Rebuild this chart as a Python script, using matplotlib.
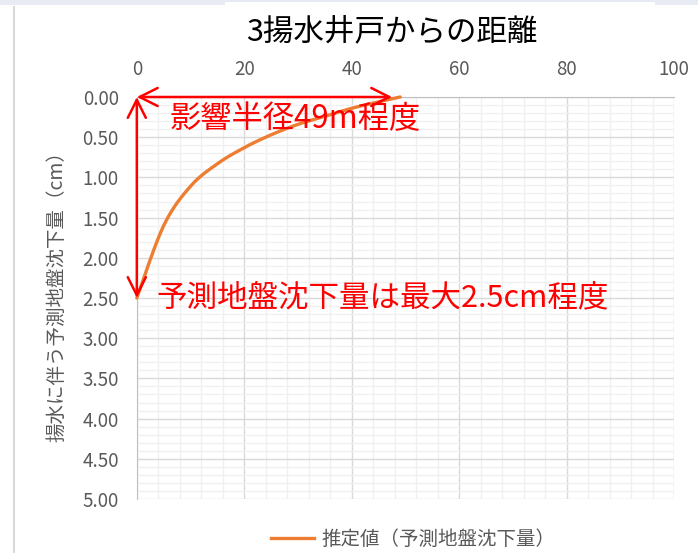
import numpy as np
import matplotlib
matplotlib.use("Agg")
import matplotlib.pyplot as plt
from matplotlib.ticker import MultipleLocator, FormatStrFormatter
from matplotlib.lines import Line2D
from matplotlib.patches import Rectangle

plt.rcParams['font.family'] = ['Noto Sans CJK JP', 'DejaVu Sans']

# 揚水井戸からの距離 (m) と予測地盤沈下量 (cm)
distance = [0, 5, 10, 15, 20, 25, 30, 35, 40, 45, 49]
settlement = [2.50, 1.60, 1.11, 0.83, 0.63, 0.47, 0.34, 0.24, 0.14, 0.06, 0.00]
influence_radius = 47.5

title = "3揚水井戸からの距離"
ylabel = "揚水に伴う予測地盤沈下量（cm）"
series_name = "推定値（予測地盤沈下量）"
note_radius = "影響半径49m程度"
note_max = "予測地盤沈下量は最大2.5cm程度"

GRAY = "#595959"
ORANGE = "#ED7D31"
RED = "#FF0000"


def smooth(xs, ys, n=20):
    # Catmull-Rom spline through the points (Excel-style smoothed line)
    p = np.column_stack([xs, ys]).astype(float)
    p = np.vstack([p[0], p, p[-1]])
    out = []
    for i in range(1, len(p) - 2):
        p0, p1, p2, p3 = p[i - 1], p[i], p[i + 1], p[i + 2]
        t = np.linspace(0, 1, n, endpoint=False)[:, None]
        seg = 0.5 * ((2 * p1) + (-p0 + p2) * t
                     + (2 * p0 - 5 * p1 + 4 * p2 - p3) * t ** 2
                     + (-p0 + 3 * p1 - 3 * p2 + p3) * t ** 3)
        out.append(seg)
    out.append(p[-2][None, :])
    out = np.vstack(out)
    return out[:, 0], out[:, 1]


fig = plt.figure(figsize=(6.98, 5.53), dpi=100)
ax = fig.add_axes([0.196, 0.0976, 0.770, 0.727])

sx, sy = smooth(distance, settlement)
ax.plot(sx, sy, color=ORANGE, lw=2.4, solid_capstyle='round', clip_on=False, zorder=3)

ax.set_xlim(0, 100)
ax.set_ylim(5, 0)
ax.xaxis.tick_top()
ax.xaxis.set_major_locator(MultipleLocator(20))
ax.xaxis.set_minor_locator(MultipleLocator(4))
ax.yaxis.set_major_locator(MultipleLocator(0.5))
ax.yaxis.set_minor_locator(MultipleLocator(0.1))
ax.yaxis.set_major_formatter(FormatStrFormatter('%.2f'))
ax.tick_params(which='both', length=0, labelsize=13.5, labelcolor=GRAY)
ax.tick_params(axis='x', pad=12)
ax.tick_params(axis='y', pad=13)
ax.grid(which='major', color='#d9d9d9', lw=1)
ax.grid(which='minor', color='#f0f0f0', lw=1)
ax.set_axisbelow(True)
for side in ['right', 'bottom']:
    ax.spines[side].set_visible(False)
for side in ['top', 'left']:
    ax.spines[side].set_color('#bfbfbf')
ax.set_ylabel(ylabel, fontsize=14, color=GRAY, va='center')
ax.yaxis.set_label_coords(-0.149, 0.517)

# 影響半径と最大沈下量を示す矢印
arrow = dict(arrowstyle='<->,head_length=1.3,head_width=0.65', mutation_scale=10,
             lw=1.8, color=RED, shrinkA=0, shrinkB=0)
ax.annotate('', xy=(influence_radius, 0), xytext=(0, 0), arrowprops=arrow,
            annotation_clip=False, zorder=4)
ax.annotate('', xy=(0, settlement[0]), xytext=(0, 0), arrowprops=arrow,
            annotation_clip=False, zorder=4)
ax.text(6.1, 0.27, note_radius, color=RED, fontsize=22.5, va='center', ha='left', zorder=5)
ax.text(3.7, 2.5, note_max, color=RED, fontsize=22, va='center', ha='left', zorder=5)

fig.text(0.562, 0.942, title, fontsize=22, color='black', ha='center', va='center')

handle = Line2D([], [], color=ORANGE, lw=2.4)
fig.legend([handle], [series_name], loc='center', bbox_to_anchor=(0.592, 0.024),
           frameon=False, fontsize=14, labelcolor=GRAY, handlelength=2.2,
           handletextpad=0.35)

# 上端の帯と左端の枠線
fig.patches.append(Rectangle((0, 1 - 5 / 553), 225 / 698, 5 / 553, transform=fig.transFigure,
                             color='#e8ebf3', lw=0))
fig.patches.append(Rectangle((225 / 698, 1 - 2 / 553), 430 / 698, 2 / 553, transform=fig.transFigure,
                             color='#e8ebf3', lw=0))
fig.patches.append(Rectangle((655 / 698, 1 - 5 / 553), 43 / 698, 5 / 553, transform=fig.transFigure,
                             color='#e8ebf3', lw=0))
fig.add_artist(Line2D([13.5 / 698, 13.5 / 698], [0, 1 - 7 / 553], transform=fig.transFigure,
                      color='#d9d9d9', lw=1.5))

fig.savefig("out.png", dpi=100)
